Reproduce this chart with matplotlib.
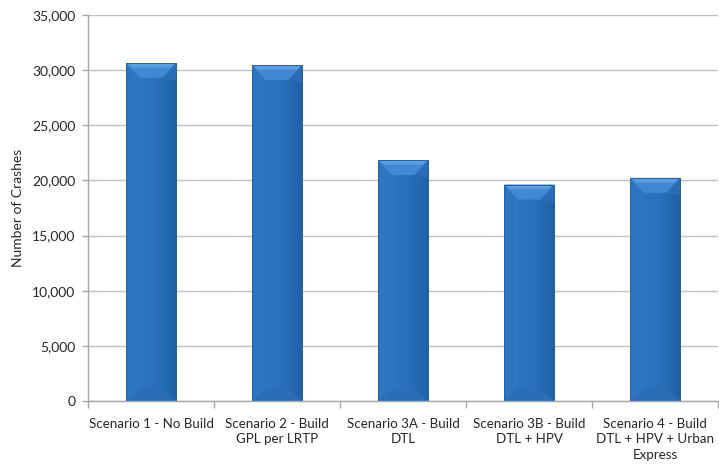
import numpy as np
import matplotlib
matplotlib.use("Agg")
import matplotlib.pyplot as plt
from matplotlib.patches import Polygon
from matplotlib.colors import LinearSegmentedColormap

categories = [
    "Scenario 1 - No Build",
    "Scenario 2 - Build\nGPL per LRTP",
    "Scenario 3A - Build\nDTL",
    "Scenario 3B - Build\nDTL + HPV",
    "Scenario 4 - Build\nDTL + HPV + Urban\nExpress",
]
crashes = [30650, 30450, 21830, 19620, 20230]
y_ticks = [0, 5000, 10000, 15000, 20000, 25000, 30000, 35000]
y_label = "Number of Crashes"

plt.rcParams["font.family"] = ["Lato", "DejaVu Sans"]
text_color = "#262626"
grid_color = "#BFBFBF"

fig = plt.figure(figsize=(7.19, 4.65), dpi=100)
ax = fig.add_axes([0.1224, 0.1376, 0.8766, 0.8301])

x = np.arange(len(categories))
width = 0.4
bars = ax.bar(x, crashes, width=width, color="#2B70BC", edgecolor="none", zorder=2)

ax.set_xlim(-0.5, len(categories) - 0.5)
ax.set_ylim(0, 35000)

# horizontal shading inside each bar: lighter on the left, darker at the right edge
shade = LinearSegmentedColormap.from_list(
    "bar_shade", ["#2E74C1", "#2F77C3", "#2C73BF", "#2A6FBA", "#2569B2", "#1F5FA6"])
grad = np.linspace(0, 1, 256).reshape(1, -1)
for b in bars:
    x0, w, h = b.get_x(), b.get_width(), b.get_height()
    im = ax.imshow(grad, cmap=shade, aspect="auto", extent=(x0, x0 + w, 0, h),
                   zorder=2.1, interpolation="bilinear")
    im.set_clip_path(b)

# bevelled top and bottom edges
bev_x = 0.11
bev_y = 1350
for b in bars:
    x0, w, h = b.get_x(), b.get_width(), b.get_height()
    x1 = x0 + w
    top = Polygon([(x0, h), (x1, h), (x1 - bev_x, h - bev_y), (x0 + bev_x, h - bev_y)],
                  closed=True, facecolor="#4189D4", edgecolor="none", zorder=2.3)
    top_hi = Polygon([(x0 + 0.01, h), (x1 - 0.01, h),
                      (x1 - 0.01 - bev_x * 0.3, h - bev_y * 0.3),
                      (x0 + 0.01 + bev_x * 0.3, h - bev_y * 0.3)],
                     closed=True, facecolor="#5A9EE0", edgecolor="none", zorder=2.35)
    right = Polygon([(x1, h), (x1 - bev_x, h - bev_y), (x1, h - bev_y * 1.2)],
                    closed=True, facecolor="#2A6CB6", edgecolor="none", zorder=2.3)
    bottom = Polygon([(x0, 0), (x1, 0), (x1 - bev_x, bev_y * 0.8), (x0 + bev_x, bev_y * 0.8)],
                     closed=True, facecolor="#2B6DB7", edgecolor="none", zorder=2.3)
    ax.add_patch(bottom)
    ax.add_patch(top)
    ax.add_patch(top_hi)
    ax.add_patch(right)
    edge = plt.Rectangle((x0, 0), w, h, fill=False, edgecolor="#2262A8",
                         linewidth=0.7, zorder=2.4)
    ax.add_patch(edge)

ax.set_yticks(y_ticks)
ax.set_yticklabels([f"{v:,}" for v in y_ticks], fontsize=10, color=text_color)
ax.yaxis.grid(True, color=grid_color, linewidth=1.0, zorder=0)
ax.set_axisbelow(True)

ax.set_xticks(np.arange(len(categories) + 1) - 0.5)
ax.set_xticklabels([])
ax.set_xticks(x, minor=True)
ax.set_xticklabels(categories, minor=True, fontsize=9.6, color=text_color,
                   linespacing=1.35, va="top")
ax.tick_params(axis="x", which="minor", length=0, pad=12)
ax.tick_params(axis="x", which="major", length=5, color="#A6A6A6", width=1)
ax.tick_params(axis="y", length=4, color="#A6A6A6", width=1, pad=5)

for side in ("top", "right"):
    ax.spines[side].set_visible(False)
for side in ("left", "bottom"):
    ax.spines[side].set_color("#A6A6A6")
    ax.spines[side].set_linewidth(1)

ax.set_ylabel(y_label, fontsize=10, color=text_color, labelpad=6)

fig.savefig("out.png", dpi=100)
